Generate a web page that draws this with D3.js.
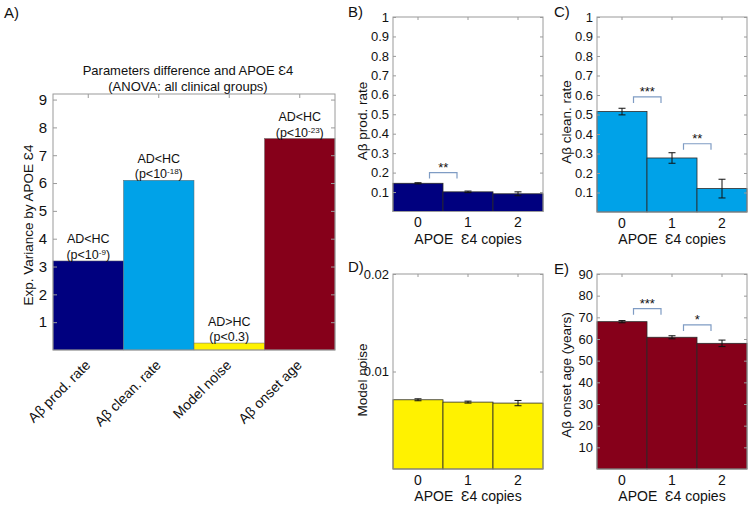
<!DOCTYPE html>
<html>
<head>
<meta charset="utf-8">
<script src="https://cdn.jsdelivr.net/npm/d3@7"></script>
<style>
  html, body { margin: 0; padding: 0; background: #fff; }
  svg { display: block; font-family: "Liberation Sans", Arial, sans-serif; }
</style>
</head>
<body>
<svg id="chart" width="751" height="506"></svg>
<script>
// ---------------- DATA ----------------
const aCategories = ["Aβ prod. rate", "Aβ clean. rate", "Model noise", "Aβ onset age"];
const aValues = [3.2, 6.1, 0.25, 7.6];
const aComparison = ["AD<HC", "AD<HC", "AD>HC", "AD<HC"];
const aPExponent = ["-9", "-18", null, "-23"];
const aPPlain = [null, null, "(p<0.3)", null];
const aTicks = [1, 2, 3, 4, 5, 6, 7, 8, 9];

const copies = ["0", "1", "2"];

const prodMean = [0.145, 0.101, 0.091];
const prodErr = [0.003, 0.004, 0.010];

const cleanMean = [0.515, 0.277, 0.120];
const cleanErr = [0.017, 0.027, 0.048];

const noiseMean = [0.00710, 0.00686, 0.00676];
const noiseErr = [0.00010, 0.00010, 0.00027];

const onsetMean = [68.0, 60.8, 58.0];
const onsetErr = [0.5, 0.7, 1.5];

const rateTicks = [0.1, 0.2, 0.3, 0.4, 0.5, 0.6, 0.7, 0.8, 0.9, 1];
const noiseTicks = [0.01, 0.02];
const onsetTicks = [10, 20, 30, 40, 50, 60, 70, 80, 90];

const prodSig = [{ from: 0, to: 1, label: "**", y: 0.2 }];
const cleanSig = [{ from: 0, to: 1, label: "***", y: 0.59 }, { from: 1, to: 2, label: "**", y: 0.35 }];
const onsetSig = [{ from: 0, to: 1, label: "***", y: 74 }, { from: 1, to: 2, label: "*", y: 66.5 }];

// ---------------- STYLE ----------------
const colNavy = "#00007f";
const colSky = "#00a2e8";
const colYellow = "#fff200";
const colRed = "#86001a";
const aColors = [colNavy, colSky, colYellow, colRed];
const boxColor = "#9a9a9a";
const bracketColor = "#7f9cc4";
const FONT = "\"Liberation Sans\", Arial, sans-serif";

const svg = d3.select("#chart");

function fmtTick(v) {
  if (v === 1) return "1";
  return String(+v.toFixed(4));
}

function drawBox(g, x0, x1, y0, y1) {
  g.append("rect").attr("x", x0).attr("y", y0).attr("width", x1 - x0).attr("height", y1 - y0)
    .attr("fill", "none").attr("stroke", boxColor).attr("stroke-width", 1);
}

// ---------------- PANEL A ----------------
(function () {
  const L = 53, R = 335, T = 94, B = 350;
  const x = d3.scaleBand().domain(aCategories).range([L, R]).padding(0);
  const y = d3.scaleLinear().domain([0, 9.2]).range([B, T]);
  const g = svg.append("g");

  g.selectAll("rect.bar").data(aValues).join("rect")
    .attr("class", "bar")
    .attr("x", (d, i) => x(aCategories[i]))
    .attr("width", x.bandwidth())
    .attr("y", d => y(d))
    .attr("height", d => y(0) - y(d))
    .attr("fill", (d, i) => aColors[i])
    .attr("stroke", "#666").attr("stroke-width", 0.5);

  drawBox(g, L, R, T, B);

  const ya = d3.axisLeft(y).tickValues(aTicks).tickSize(-4).tickPadding(6).tickFormat(d3.format("d"));
  const yg = g.append("g").attr("transform", `translate(${L},0)`).call(ya);
  yg.select(".domain").remove();
  yg.selectAll("line").attr("stroke", boxColor);
  yg.selectAll("text").attr("font-size", 15).attr("font-family", FONT).attr("fill", "#111");
  const yr = d3.axisRight(y).tickValues(aTicks).tickSize(-4).tickFormat("");
  const yrg = g.append("g").attr("transform", `translate(${R},0)`).call(yr);
  yrg.select(".domain").remove();
  yrg.selectAll("line").attr("stroke", boxColor);
  const xt = d3.axisTop(x).tickSize(-4).tickFormat("");
  const xtg = g.append("g").attr("transform", `translate(0,${T})`).call(xt);
  xtg.select(".domain").remove();
  xtg.selectAll("line").attr("stroke", boxColor);

  g.selectAll("text.xlab").data(aCategories).join("text")
    .attr("class", "xlab")
    .attr("text-anchor", "end")
    .attr("font-size", 14).attr("font-family", FONT).attr("fill", "#111")
    .attr("transform", d => `translate(${x(d) + x.bandwidth() / 2 + 3},${B + 16}) rotate(-45)`)
    .text(d => d);

  aValues.forEach((v, i) => {
    const cx = x(aCategories[i]) + x.bandwidth() / 2;
    const base = y(v) - 2;
    g.append("text").attr("x", cx).attr("y", base - 15.5).attr("text-anchor", "middle")
      .attr("font-size", 12.5).attr("font-family", FONT).attr("fill", "#111").text(aComparison[i]);
    const t = g.append("text").attr("x", cx).attr("y", base).attr("text-anchor", "middle")
      .attr("font-size", 12.5).attr("font-family", FONT).attr("fill", "#111");
    if (aPExponent[i] !== null) {
      t.append("tspan").text("(p<10");
      t.append("tspan").attr("dy", -4).attr("font-size", 8).text(aPExponent[i]);
      t.append("tspan").attr("dy", 4).text(")");
    } else {
      t.text(aPPlain[i]);
    }
  });

  svg.append("text").attr("x", 188).attr("y", 75).attr("text-anchor", "middle")
    .attr("font-size", 13).attr("font-family", FONT).attr("fill", "#111")
    .text("Parameters difference and APOE Ɛ4");
  svg.append("text").attr("x", 188).attr("y", 91).attr("text-anchor", "middle")
    .attr("font-size", 13).attr("font-family", FONT).attr("fill", "#111")
    .text("(ANOVA: all clinical groups)");
  svg.append("text").attr("transform", `translate(33,${(T + B) / 2 + 3}) rotate(-90)`)
    .attr("text-anchor", "middle").attr("font-size", 13.5).attr("font-family", FONT).attr("fill", "#111")
    .text("Exp. Variance by APOE Ɛ4");
  svg.append("text").attr("x", 4).attr("y", 18).attr("font-size", 15).attr("font-family", FONT)
    .attr("fill", "#111").text("A)");
})();

// ---------------- SMALL PANELS ----------------
function smallPanel(opt) {
  const { L, R, T, B, domain, ticks, means, errs, color, sig, ylabel, ylabelPos, letter, letterPos } = opt;
  const x = d3.scaleBand().domain(copies).range([L, R]).padding(0);
  const y = d3.scaleLinear().domain(domain).range([B, T]);
  const g = svg.append("g");

  g.selectAll("rect.bar").data(means).join("rect")
    .attr("class", "bar")
    .attr("x", (d, i) => x(copies[i]))
    .attr("width", x.bandwidth())
    .attr("y", d => y(d))
    .attr("height", d => y(domain[0]) - y(d))
    .attr("fill", color)
    .attr("stroke", "#2a2a2a").attr("stroke-width", 0.8);

  drawBox(g, L, R, T, B);

  means.forEach((m, i) => {
    const cx = x(copies[i]) + x.bandwidth() / 2;
    const y1 = y(m + errs[i]), y2 = y(m - errs[i]);
    g.append("line").attr("x1", cx).attr("x2", cx).attr("y1", y1).attr("y2", y2).attr("stroke", "#111").attr("stroke-width", 1);
    [y1, y2].forEach(yy => g.append("line").attr("x1", cx - 3.5).attr("x2", cx + 3.5).attr("y1", yy).attr("y2", yy)
      .attr("stroke", "#111").attr("stroke-width", 1));
  });

  sig.forEach(s => {
    const c0 = x(copies[s.from]) + x.bandwidth() / 2;
    const step = x.step();
    const xa = c0 + 0.23 * step, xb = c0 + 0.78 * step;
    const yy = y(s.y);
    g.append("path").attr("d", `M${xa},${yy + 6}V${yy}H${xb}V${yy + 6}`)
      .attr("fill", "none").attr("stroke", bracketColor).attr("stroke-width", 1.2);
    g.append("text").attr("x", (xa + xb) / 2).attr("y", yy - 1).attr("text-anchor", "middle")
      .attr("font-size", 13).attr("font-family", FONT).attr("fill", "#111").text(s.label);
  });

  const ya = d3.axisLeft(y).tickValues(ticks).tickSize(-3).tickPadding(4).tickFormat(fmtTick);
  const yg = g.append("g").attr("transform", `translate(${L},0)`).call(ya);
  yg.select(".domain").remove();
  yg.selectAll("line").attr("stroke", boxColor);
  yg.selectAll("text").attr("font-size", 13).attr("font-family", FONT).attr("fill", "#111");
  const yr = d3.axisRight(y).tickValues(ticks).tickSize(-3).tickFormat("");
  const yrg = g.append("g").attr("transform", `translate(${R},0)`).call(yr);
  yrg.select(".domain").remove();
  yrg.selectAll("line").attr("stroke", boxColor);
  const xt = d3.axisTop(x).tickSize(-3).tickFormat("");
  const xtg = g.append("g").attr("transform", `translate(0,${T})`).call(xt);
  xtg.select(".domain").remove();
  xtg.selectAll("line").attr("stroke", boxColor);

  const xa = d3.axisBottom(x).tickSize(0).tickPadding(6);
  const xg = g.append("g").attr("transform", `translate(0,${B})`).call(xa);
  xg.select(".domain").remove();
  xg.selectAll("text").attr("font-size", 14).attr("font-family", FONT).attr("fill", "#111");
  g.append("text").attr("x", (L + R) / 2).attr("y", B + 32).attr("text-anchor", "middle")
    .attr("font-size", 14).attr("font-family", FONT).attr("fill", "#111")
    .attr("xml:space", "preserve").text("APOE  Ɛ4 copies");

  g.append("text").attr("transform", `translate(${ylabelPos[0]},${ylabelPos[1]}) rotate(-90)`)
    .attr("text-anchor", "middle").attr("font-size", 13.5).attr("font-family", FONT).attr("fill", "#111")
    .text(ylabel);
  g.append("text").attr("x", letterPos[0]).attr("y", letterPos[1]).attr("font-size", 15).attr("font-family", FONT)
    .attr("fill", "#111").text(letter);
}

smallPanel({ L: 393, R: 543, T: 17, B: 211.5, domain: [0, 1], ticks: rateTicks, means: prodMean, errs: prodErr,
  color: colNavy, sig: prodSig, ylabel: "Aβ prod. rate", ylabelPos: [367, 121], letter: "B)", letterPos: [348, 17] });
smallPanel({ L: 597, R: 747, T: 17, B: 212, domain: [0, 1], ticks: rateTicks, means: cleanMean, errs: cleanErr,
  color: colSky, sig: cleanSig, ylabel: "Aβ clean. rate", ylabelPos: [571, 122], letter: "C)", letterPos: [554, 17] });
smallPanel({ L: 393, R: 543, T: 274, B: 469, domain: [0, 0.02], ticks: noiseTicks, means: noiseMean, errs: noiseErr,
  color: colYellow, sig: [], ylabel: "Model noise", ylabelPos: [367, 380], letter: "D)", letterPos: [348, 272] });
smallPanel({ L: 597, R: 747, T: 274, B: 469, domain: [0, 90], ticks: onsetTicks, means: onsetMean, errs: onsetErr,
  color: colRed, sig: onsetSig, ylabel: "Aβ onset age (years)", ylabelPos: [571, 375], letter: "E)", letterPos: [554, 274] });
</script>
</body>
</html>
